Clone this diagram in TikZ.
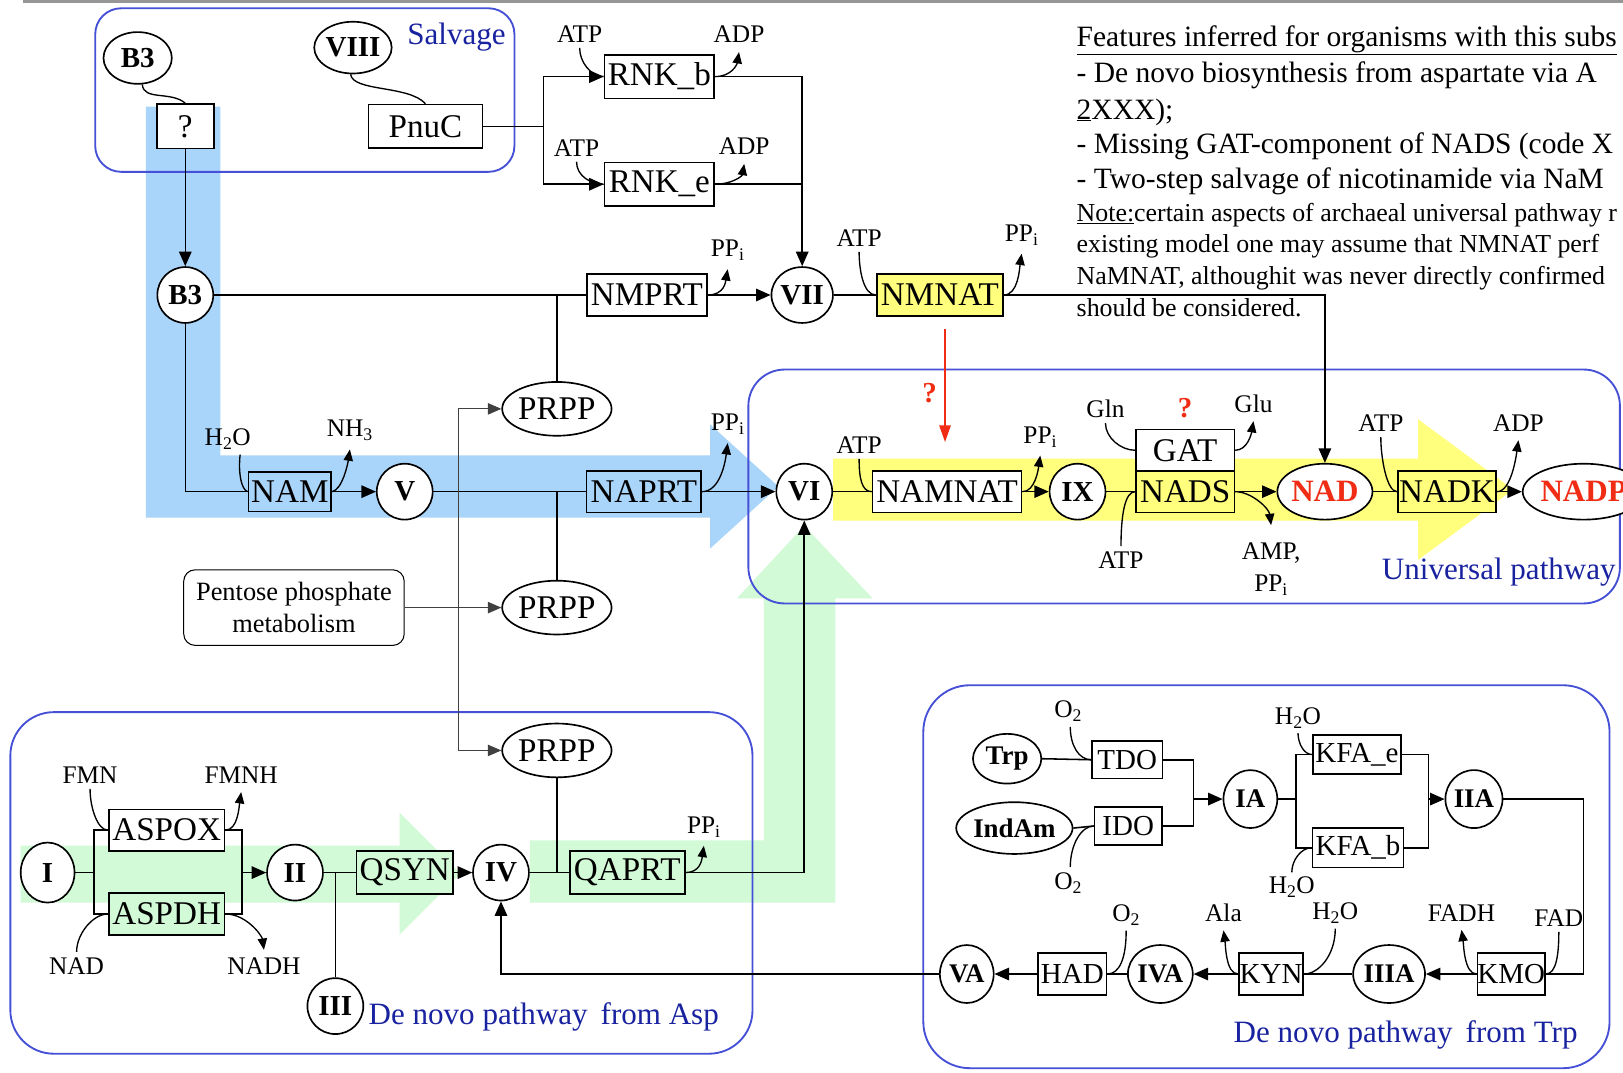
\documentclass[tikz,border=0pt]{standalone}
\usepackage{fontspec}
\setmainfont{Liberation Serif}
\usetikzlibrary{shapes.geometric,arrows.meta}

\definecolor{frameblue}{RGB}{70,80,215}
\definecolor{labelblue}{RGB}{25,35,160}
\definecolor{bandblue}{RGB}{170,213,250}
\definecolor{bandgreen}{RGB}{210,250,215}
\definecolor{bandyellow}{RGB}{255,255,125}
\definecolor{alertred}{RGB}{240,45,20}
\definecolor{rulegrey}{RGB}{150,150,150}

\newcommand\fsBox{\fontsize{32}{36}\selectfont}
\newcommand\fsSBox{\fontsize{28}{32}\selectfont}
\newcommand\fsMol{\fontsize{28}{32}\selectfont\bfseries}
\newcommand\fsSMol{\fontsize{26}{30}\selectfont\bfseries}
\newcommand\fsLab{\fontsize{24.5}{31}\selectfont}
\newcommand\fsTag{\fontsize{30}{34}\selectfont}
\newcommand\fsText{\fontsize{28.5}{34}\selectfont}
\newcommand\fsNote{\fontsize{25}{30}\selectfont}
\newcommand\fsPPM{\fontsize{25.5}{31}\selectfont}
\newcommand\PPi{PP\textsubscript{i}}

\tikzset{
  enz/.style={draw, line width=1.6pt, inner sep=0pt, font=\fsBox, minimum height=40pt},
  senz/.style={enz, font=\fsSBox, minimum height=38pt},
  mol/.style={draw, ellipse, line width=1.6pt, inner sep=0pt, fill=white, font=\fsMol,
              minimum width=54pt, minimum height=54pt},
  lab/.style={inner sep=3pt, font=\fsLab},
  tag/.style={font=\fsTag, text=labelblue, inner sep=0pt},
  pathframe/.style={draw=frameblue, line width=1.8pt},
  conn/.style={line width=1.5pt},
  arr/.style={conn, -{Triangle[length=14pt,width=12pt]}},
  cof/.style={line width=1.3pt},
  cofarr/.style={cof, -{Triangle[length=11pt,width=9pt]}},
  feed/.style={line width=0.9pt, draw=black!75, -{Triangle[length=13pt,width=11pt]}},
  redarr/.style={line width=1.5pt, draw=alertred, -{Triangle[length=16pt,width=11pt]}},
  txt/.style={anchor=base west, inner sep=0pt, font=\fsText},
  note/.style={anchor=base west, inner sep=0pt, font=\fsNote},
}

\begin{document}
\begin{tikzpicture}[x=1pt,y=-1pt]
\useasboundingbox (0,0) rectangle (1568,1036);
\clip (0,0) rectangle (1568,1036);
\fill[white] (0,0) rectangle (1568,1036);

% rule along the top edge
\draw[rulegrey, line width=3pt] (22,1) -- (1568,1);

% highlighted routes
\fill[bandblue] (141,103) -- (213,103) -- (213,440) -- (686,440) -- (686,410)
  -- (752,470) -- (686,530) -- (686,500) -- (141,500) -- cycle;
\fill[bandgreen] (20,817) -- (386,817) -- (386,785) -- (445,844) -- (386,903)
  -- (386,872) -- (20,872) -- cycle;
\fill[bandgreen] (512,812) -- (738,812) -- (738,578) -- (712,578) -- (777,508)
  -- (843,578) -- (807,578) -- (807,872) -- (512,872) -- cycle;
\fill[bandyellow] (805,443) -- (1370,443) -- (1370,405) -- (1462,473)
  -- (1370,541) -- (1370,503) -- (805,503) -- cycle;

% pathway frames
\draw[pathframe, rounded corners=25pt] (92,8) rectangle (497,166);
\draw[pathframe, rounded corners=35pt] (723,357) rectangle (1565,583);
\draw[pathframe, rounded corners=42pt] (10,688) rectangle (727,1018);
\draw[pathframe, rounded corners=45pt] (892,662) rectangle (1555,1032);

\node[tag] (tsalv) at (441,36) {Salvage};
\node[tag] (tuniv) at (1448,553) {Universal pathway};
\node[tag, anchor=west] (tasp) at (356,982) {De novo pathway\, from Asp};
\node[tag] (ttrp) at (1358,1000) {De novo pathway\, from Trp};

% ---------- salvage ----------
\node[mol, minimum width=66pt, minimum height=50pt] (b3a) at (133,56) {B3};
\node[mol, minimum width=70pt, minimum height=50pt] (viii) at (341,46) {VIII};
\node[enz, fill=white, minimum width=55pt, minimum height=43pt] (qbox) at (179,122) {?};
\node[enz, minimum width=110pt, minimum height=42pt] (pnuc) at (411,122) {PnuC};
\draw[cof] (b3a.280) .. controls +(1,16) and +(-14,-12) .. (qbox.north);
\draw[cof] (viii.265) .. controls +(2,17) and +(-16,-18) .. (pnuc.north);

\node[enz, minimum width=106pt, minimum height=42pt] (rnkb) at (637,74) {RNK\_b};
\node[enz, minimum width=106pt, minimum height=42pt] (rnke) at (637,178) {RNK\_e};
\node[lab] (atp1) at (560,33) {ATP};
\node[lab] (adp1) at (714,33) {ADP};
\node[lab] (atp2) at (557,143) {ATP};
\node[lab] (adp2) at (719,141) {ADP};
\coordinate (j1) at (525,122);
\draw[conn] (pnuc.east) -- (j1);
\draw[arr] (j1) |- (rnkb.west);
\draw[arr] (j1) |- (rnke.west);
\draw[cof] ([yshift=-2pt]atp1.south) .. controls +(0,14) and +(-12,0) .. (rnkb.west);
\draw[cof] ([yshift=-2pt]atp2.south) .. controls +(0,14) and +(-12,0) .. (rnke.west);
\draw[cofarr] (rnkb.east) .. controls +(16,0) and +(-2,12) .. ([yshift=-6pt]adp1.south);
\draw[cofarr] (rnke.east) .. controls +(16,0) and +(-2,12) .. ([yshift=-6pt]adp2.south);

% ---------- NMN branch ----------
\node[mol] (b3b) at (179,285) {B3};
\node[enz, minimum width=116pt] (nmprt) at (625,285) {NMPRT};
\node[mol] (vii) at (775,285) {VII};
\node[enz, fill=bandyellow, minimum width=122pt, minimum height=41pt] (nmnat) at (908,285) {NMNAT};
\node[mol, minimum width=82pt, minimum height=52pt, font=\fsBox] (prpp1) at (538,395) {PRPP};
\node[lab] (pp1) at (703,242) {\PPi};
\node[lab] (atp3) at (830,230) {ATP};
\node[lab] (pp2) at (987,227) {\PPi};

\draw[arr] (qbox.south) -- (b3b.north);
\draw[conn] (b3b.east) -- (nmprt.west);
\draw[conn] (prpp1.north) -- (prpp1.north |- b3b.east);
\draw[arr] (nmprt.east) -- (vii.west);
\draw[arr] (rnkb.east) -| (vii.north);
\draw[conn] (rnke.east) -- (rnke.east -| vii.north);
\draw[conn] (vii.east) -- (nmnat.west);
\draw[cofarr] (nmprt.east) .. controls +(16,0) and +(-2,12) .. ([yshift=-5pt]pp1.south);
\draw[cof] ([yshift=-2pt]atp3.south) .. controls +(0,18) and +(-12,0) .. (nmnat.west);
\draw[cofarr] (nmnat.east) .. controls +(14,0) and +(-2,14) .. ([yshift=-5pt]pp2.south);

\coordinate (rq1) at (913,318);
\coordinate (rq2) at (913,427);
\draw[redarr] (rq1) -- (rq2);
\node[font=\fsMol, text=alertred, inner sep=0pt] (rqm1) at (898,380) {?};

% ---------- NAM branch ----------
\node[enz, minimum width=80pt, minimum height=38pt] (nam) at (280,475) {NAM};
\node[mol] (v) at (391,475) {V};
\node[enz, minimum width=111pt] (naprt) at (622,475) {NAPRT};
\node[mol, minimum width=82pt, minimum height=52pt, font=\fsBox] (prpp2) at (538,587) {PRPP};
\node[lab] (h2o1) at (220,424) {H\textsubscript{2}O};
\node[lab] (nh3) at (338,416) {NH\textsubscript{3}};
\node[lab] (pp3) at (703,410) {\PPi};
\draw[conn] (b3b.south) |- (nam.west);
\draw[arr] (nam.east) -- (v.west);
\draw[conn] (v.east) -- (naprt.west);
\draw[conn] (prpp2.north) -- (prpp2.north |- v.east);
\draw[cof] ([xshift=12pt,yshift=-2pt]h2o1.south) .. controls +(-2,18) and +(-6,-2) .. (nam.west);
\draw[cofarr] (nam.east) .. controls +(10,-2) and +(-2,14) .. ([yshift=-5pt]nh3.south);
\draw[cofarr] (naprt.east) .. controls +(18,0) and +(-2,16) .. ([yshift=-5pt]pp3.south);

\node[draw, rounded corners=11pt, line width=1pt, minimum width=213pt, minimum height=73pt,
      align=center, inner sep=0pt, font=\fsPPM] (ppm) at (284,587) {Pentose phosphate\\metabolism};
\coordinate (pj) at (443,587);
\draw[feed] (ppm.east) -- (prpp2.west);
\draw[feed] (pj) |- (prpp1.west);

% ---------- universal pathway ----------
\node[mol] (vi) at (777,475) {VI};
\node[enz, fill=white, minimum width=144pt] (namnat) at (915,475) {NAMNAT};
\node[mol] (ix) at (1041,475) {IX};
\node[enz, fill=bandyellow, minimum width=95pt] (nads) at (1145,475) {NADS};
\node[enz, fill=white, minimum width=95pt] (gat) at (1145,435) {GAT};
\node[mol, minimum width=78pt, text=alertred, font=\fontsize{30}{34}\selectfont\bfseries] (nad) at (1280,475) {NAD};
\node[enz, fill=bandyellow, minimum width=95pt] (nadk) at (1398,475) {NADK};
\node[mol, minimum width=100pt, text=alertred, font=\fontsize{30}{34}\selectfont\bfseries] (nadp) at (1530,475) {NADP};
\node[lab] (atp4) at (830,430) {ATP};
\node[lab] (pp4) at (1005,422) {\PPi};
\node[lab] (gln) at (1068,395) {Gln};
\node[lab] (glu) at (1211,390) {Glu};
\node[font=\fsMol, text=alertred, inner sep=0pt] (rqm2) at (1145,394) {?};
\node[lab] (atp5) at (1083,541) {ATP};
\node[lab, align=center] (amp) at (1228,550) {AMP,\\\PPi};
\node[lab] (atp6) at (1334,409) {ATP};
\node[lab] (adp3) at (1467,409) {ADP};

\draw[arr] (naprt.east) -- (vi.west);
\draw[conn] (vi.east) -- (namnat.west);
\draw[arr] (namnat.east) -- (ix.west);
\draw[conn] (ix.east) -- (nads.west);
\draw[arr] (nads.east) -- (nad.west);
\draw[conn] (nad.east) -- (nadk.west);
\draw[arr] (nadk.east) -- (nadp.west);
\draw[arr] (nmnat.east) -| (nad.north);
\draw[cof] ([yshift=-2pt]atp4.south) .. controls +(0,18) and +(-10,0) .. (namnat.west);
\draw[cofarr] (namnat.east) .. controls +(12,0) and +(-2,14) .. ([yshift=-5pt]pp4.south);
\draw[cof] ([yshift=-2pt]gln.south) .. controls +(0,14) and +(-14,0) .. (gat.west);
\draw[cofarr] (gat.east) .. controls +(12,0) and +(-2,12) .. ([yshift=-5pt]glu.south);
\draw[cof] ([yshift=2pt]atp5.north) .. controls +(0,-30) and +(-10,0) .. (nads.west);
\draw[cofarr] (nads.east) .. controls +(16,0) and +(-2,-16) .. ([yshift=14pt]amp.north);
\draw[cof] ([yshift=-2pt]atp6.south) .. controls +(0,20) and +(-10,0) .. (nadk.west);
\draw[cofarr] (nadk.east) .. controls +(14,0) and +(-2,14) .. ([yshift=-5pt]adp3.south);

% ---------- de novo from Asp ----------
\node[mol, minimum width=52pt, minimum height=58pt] (i) at (46,843) {I};
\node[enz, fill=white, minimum width=112pt] (aspox) at (161,802) {ASPOX};
\node[enz, fill=bandgreen, minimum width=112pt] (aspdh) at (161,883) {ASPDH};
\node[mol] (ii) at (285,843) {II};
\node[mol] (iii) at (324,972) {III};
\node[enz, fill=bandgreen, minimum width=93pt, minimum height=42pt] (qsyn) at (391,843) {QSYN};
\node[mol] (iv) at (484,843) {IV};
\node[mol, minimum width=82pt, minimum height=52pt, font=\fsBox] (prpp3) at (538,725) {PRPP};
\node[enz, fill=bandgreen, minimum width=111pt, minimum height=42pt] (qaprt) at (606,843) {QAPRT};
\node[lab] (fmn) at (87,749) {FMN};
\node[lab] (fmnh) at (233,749) {FMNH};
\node[lab] (nadl) at (74,933) {NAD};
\node[lab] (nadh) at (255,933) {NADH};
\node[lab] (pp6) at (680,799) {\PPi};

\coordinate (j2) at (91,843);
\coordinate (j3) at (234,843);
\draw[conn] (i.east) -- (j2);
\draw[conn] (j2) |- (aspox.west);
\draw[conn] (j2) |- (aspdh.west);
\draw[conn] (aspox.east) -| (j3);
\draw[conn] (aspdh.east) -| (j3);
\draw[arr] (j3) -- (ii.west);
\draw[conn] (ii.east) -- (qsyn.west);
\draw[conn] (iii.north) -- (iii.north |- ii.east);
\draw[arr] (qsyn.east) -- (iv.west);
\draw[conn] (iv.east) -- (qaprt.west);
\draw[conn] (prpp3.south) -- (prpp3.south |- iv.east);
\draw[arr] (qaprt.east) -| (vi.south);
\draw[feed] (pj) |- (prpp3.west);
\draw[cof] ([yshift=-2pt]fmn.south) .. controls +(0,18) and +(-10,0) .. (aspox.west);
\draw[cofarr] (aspox.east) .. controls +(12,0) and +(-2,14) .. ([yshift=-5pt]fmnh.south);
\draw[cof] ([yshift=2pt]nadl.north) .. controls +(0,-18) and +(-14,0) .. (aspdh.west);
\draw[cofarr] (aspdh.east) .. controls +(20,0) and +(-2,-14) .. ([yshift=4pt]nadh.north);
\draw[cofarr] (qaprt.east) .. controls +(14,0) and +(-2,14) .. ([yshift=-5pt]pp6.south);

% ---------- de novo from Trp ----------
\node[mol, minimum width=66pt, minimum height=48pt, font=\fsSMol] (trp) at (973,733) {Trp};
\node[mol, minimum width=108pt, minimum height=50pt, font=\fsSMol] (indam) at (980,800) {IndAm};
\node[senz, minimum width=68pt, minimum height=36pt] (tdo) at (1089,734) {TDO};
\node[senz, minimum width=65pt, minimum height=37pt] (ido) at (1090,798) {IDO};
\node[mol, minimum width=52pt, minimum height=56pt, font=\fsSMol] (ia) at (1208,772) {IA};
\node[senz, minimum width=85pt] (kfae) at (1311,729) {KFA\_e};
\node[senz, minimum width=88pt] (kfab) at (1312,819) {KFA\_b};
\node[mol, minimum width=52pt, minimum height=56pt, font=\fsSMol] (iia) at (1424,772) {IIA};
\node[senz, minimum width=64pt, minimum height=40pt] (kmo) at (1460,941) {KMO};
\node[mol, minimum width=52pt, minimum height=56pt, font=\fsSMol] (iiia) at (1342,941) {IIIA};
\node[senz, minimum width=62pt, minimum height=40pt] (kyn) at (1228,941) {KYN};
\node[mol, minimum width=52pt, minimum height=56pt, font=\fsSMol] (iva) at (1121,941) {IVA};
\node[senz, minimum width=66pt, minimum height=40pt] (had) at (1036,941) {HAD};
\node[mol, minimum width=52pt, minimum height=56pt, font=\fsSMol] (va) at (934,941) {VA};
\node[lab] (o2a) at (1032,687) {O\textsubscript{2}};
\node[lab] (o2b) at (1032,853) {O\textsubscript{2}};
\node[lab] (h2o2) at (1254,694) {H\textsubscript{2}O};
\node[lab] (h2o3) at (1248,857) {H\textsubscript{2}O};
\node[lab] (fadh) at (1412,882) {FADH};
\node[lab] (fad) at (1506,887) {FAD};
\node[lab] (h2o4) at (1290,882) {H\textsubscript{2}O};
\node[lab] (ala) at (1182,882) {Ala};
\node[lab] (o2c) at (1088,884) {O\textsubscript{2}};

\coordinate (j4) at (1153,772);
\coordinate (j5) at (1252,772);
\coordinate (j6) at (1380,772);
\coordinate (j7) at (1530,941);
\draw[conn] (trp.east) -- (tdo.west);
\draw[conn] (indam.east) -- (ido.west);
\draw[conn] (tdo.east) -| (j4);
\draw[conn] (ido.east) -| (j4);
\draw[arr] (j4) -- (ia.west);
\draw[conn] (ia.east) -- (j5);
\draw[conn] (j5) |- (kfae.west);
\draw[conn] (j5) |- (kfab.west);
\draw[conn] (kfae.east) -| (j6);
\draw[conn] (kfab.east) -| (j6);
\draw[arr] (j6) -- (iia.west);
\draw[conn] (iia.east) -| (j7) -- (kmo.east);
\draw[arr] (kmo.west) -- (iiia.east);
\draw[conn] (iiia.west) -- (kyn.east);
\draw[arr] (kyn.west) -- (iva.east);
\draw[conn] (iva.west) -- (had.east);
\draw[arr] (had.west) -- (va.east);
\draw[arr] (va.west) -| (iv.south);

\draw[cof] ([xshift=2pt,yshift=-2pt]o2a.south) .. controls +(0,18) and +(-12,0) .. (tdo.west);
\draw[cof] ([xshift=2pt,yshift=2pt]o2b.north) .. controls +(0,-22) and +(-12,0) .. (ido.west);
\draw[cof] ([yshift=-1pt]h2o2.south) .. controls +(0,10) and +(-8,0) .. (kfae.west);
\draw[cof] ([yshift=1pt]h2o3.north) .. controls +(0,-12) and +(-10,0) .. (kfab.west);
\draw[cofarr] (kmo.west) .. controls +(-12,0) and +(2,14) .. ([yshift=-5pt]fadh.south);
\draw[cof] ([yshift=-2pt]fad.south) .. controls +(0,22) and +(10,0) .. (kmo.east);
\draw[cof] ([yshift=-2pt]h2o4.south) .. controls +(0,26) and +(14,0) .. (kyn.east);
\draw[cofarr] (kyn.west) .. controls +(-12,0) and +(2,14) .. ([yshift=-5pt]ala.south);
\draw[cof] ([yshift=-2pt]o2c.south) .. controls +(0,26) and +(12,0) .. (had.east);

% ---------- notes ----------
\node[txt] (n1) at (1040,45) {\underline{Features inferred for organisms with this subs}};
\node[txt] (n2) at (1040,80) {- De novo biosynthesis from aspartate via A};
\node[txt] (n3) at (1040,115) {\underline{2}XXX);};
\node[txt] (n4) at (1040,148) {- Missing GAT-component of NADS (code X};
\node[txt] (n5) at (1040,182) {- Two-step salvage of nicotinamide via NaM};
\node[note] (n6) at (1040,214) {\underline{Note:}certain aspects of archaeal universal pathway r};
\node[note] (n7) at (1040,244) {existing model one may assume that NMNAT perf};
\node[note] (n8) at (1040,275) {NaMNAT, althoughit was never directly confirmed};
\node[note] (n9) at (1040,306) {should be considered.};
\end{tikzpicture}
\end{document}
